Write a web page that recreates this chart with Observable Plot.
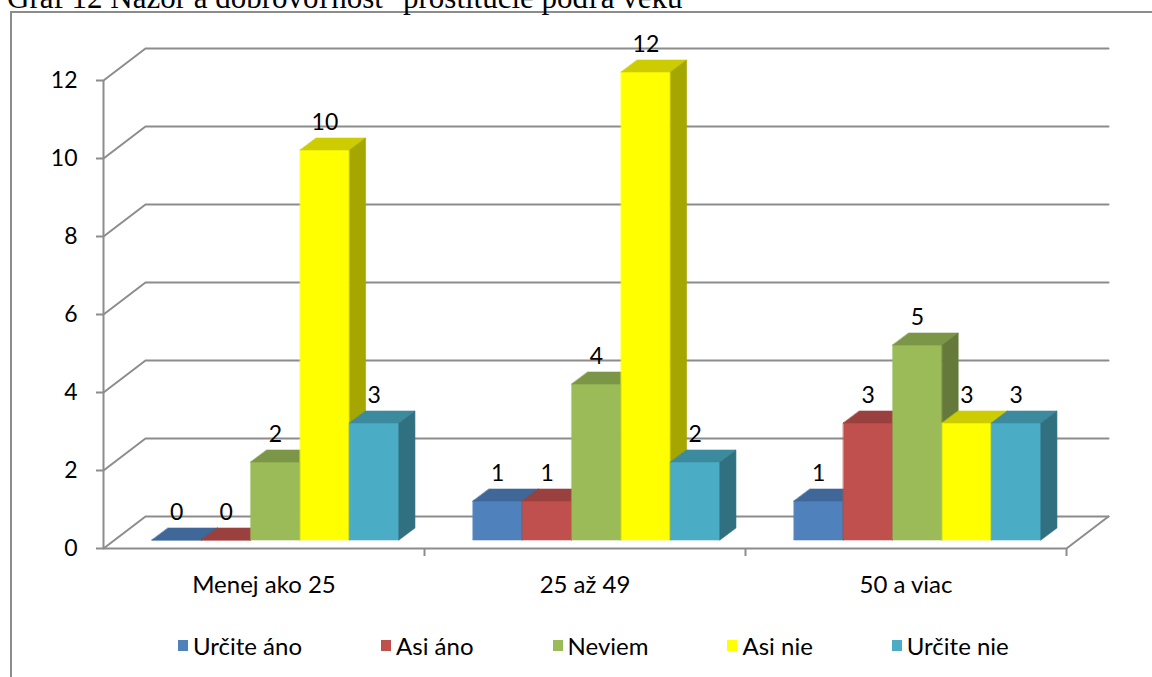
<!DOCTYPE html>
<html>
<head>
<meta charset="utf-8">
<script src="https://cdn.jsdelivr.net/npm/d3@7"></script>
<script src="https://cdn.jsdelivr.net/npm/@observablehq/plot@0.6"></script>
<style>
  html, body { margin: 0; padding: 0; background: #fff; width: 1152px; height: 677px; overflow: hidden; }
  #wrap { position: relative; width: 1152px; height: 677px; }
  #title { position: absolute; left: 7px; top: -18px; font-family: "Liberation Serif", serif; font-size: 31px; line-height: 31px; white-space: pre; color: #000; }
  #frame { position: absolute; left: 10px; top: 11px; width: 1200px; height: 700px; border: 2px solid #8c8c8c; box-sizing: border-box; }
  #chart { position: absolute; left: 0; top: 0; }
  #legend { position: absolute; left: 178px; top: 631px; display: flex; gap: 79px; font-family: Lato, sans-serif; font-size: 24px; color: #000; }
  .item { display: flex; align-items: center; gap: 5px; }
  .sw { width: 10px; height: 11px; }
</style>
</head>
<body>
<div id="wrap">
  <div id="frame"></div>
  <div id="title">Graf 12 Názor a dobrovoľnosť  prostitúcie podľa veku</div>
  <div id="chart"></div>
  <div id="legend"></div>
</div>
<script>
// ---- data ----
const categories = ["Menej ako 25", "25 až 49", "50 a viac"];
const seriesNames = ["Určite áno", "Asi áno", "Neviem", "Asi nie", "Určite nie"];
const urciteAno = [0, 1, 1];
const asiAno = [0, 1, 3];
const neviem = [2, 4, 5];
const asiNie = [10, 12, 3];
const urciteNie = [3, 2, 3];
const yTicks = [0, 2, 4, 6, 8, 10, 12];
const seriesColors = ["#4F81BD", "#C0504D", "#9BBB59", "#FFFF00", "#4BACC6"];

const seriesValues = [urciteAno, asiAno, neviem, asiNie, urciteNie];

// ---- layout ----
const W = 1152, H = 677;
const mL = 103, mR = 86, mT = 80, mB = 129;
const pxX = categories.length / (W - mL - mR);   // data units per px (x)
const pxY = 12 / (H - mT - mB);                  // data units per px (y)
const floorDX = 42 * pxX, floorDY = 32 * pxY;    // back wall depth
const barDX = 16 * pxX, barDY = 12 * pxY;        // bar depth
const offX = 11.5 * pxX, offY = 8.5 * pxY;       // bar front offset from front plane
const slots = 6.5;                               // 5 bars + 150% gap

function shade(col, k) {
  const c = d3.rgb(col);
  return d3.rgb(c.r * k, c.g * k, c.b * k).formatHex();
}

// gridlines (front diagonal + back wall)
const grid = [];
yTicks.forEach(v => {
  grid.push({x: 0, y: v, k: "g" + v});
  grid.push({x: floorDX, y: v + floorDY, k: "g" + v});
  grid.push({x: categories.length + floorDX, y: v + floorDY, k: "g" + v});
});
grid.push({x: categories.length + floorDX, y: floorDY, k: "floor"});
grid.push({x: categories.length, y: 0, k: "floor"});
grid.push({x: 0, y: 0, k: "floor"});

// bar faces in painter's order
const faces = [];
const labels = [];
categories.forEach((cat, g) => {
  seriesValues.forEach((vals, j) => {
    const v = vals[g];
    const col = seriesColors[j];
    const x1 = g + (0.75 + j) / slots + offX;
    const x2 = x1 + 1 / slots;
    const y0 = offY, yv = v + offY;
    const id = g + "-" + j;
    const front = shade(col, 1), top = shade(col, 0.8), side = shade(col, 0.65);
    [[x1, y0], [x2, y0], [x2, yv], [x1, yv]].forEach(([x, y]) => faces.push({x, y, id: id + "f", fill: front}));
    [[x1, yv], [x2, yv], [x2 + barDX, yv + barDY], [x1 + barDX, yv + barDY]].forEach(([x, y]) => faces.push({x, y, id: id + "t", fill: top}));
    [[x2, y0], [x2 + barDX, y0 + barDY], [x2 + barDX, yv + barDY], [x2, yv]].forEach(([x, y]) => faces.push({x, y, id: id + "s", fill: side}));
    labels.push({x: (x1 + x2) / 2, y: v, text: String(v)});
  });
});

const gridColor = "#8c8c8c";

const chart = Plot.plot({
  width: W, height: H,
  marginLeft: mL, marginRight: mR, marginTop: mT, marginBottom: mB,
  style: {background: "none", overflow: "visible"},
  x: {type: "linear", domain: [0, categories.length]},
  y: {type: "linear", domain: [0, 12]},
  color: {type: "identity"},
  marks: [
    Plot.line(grid, {x: "x", y: "y", z: "k", stroke: gridColor, strokeWidth: 2}),
    Plot.ruleX([0], {y1: 0, y2: 12, stroke: gridColor, strokeWidth: 2}),
    Plot.ruleX([1, 2, 3], {y1: 0, y2: -8 * pxY, stroke: gridColor, strokeWidth: 2}),
    Plot.axisY({ticks: yTicks, tickSize: 7, tickPadding: 19, stroke: gridColor, strokeWidth: 2, fontSize: 23, fontFamily: "Lato", fill: "#000", label: null}),
    Plot.axisX({ticks: [0.5, 1.5, 2.5], tickSize: 0, tickPadding: 27, tickFormat: d => categories[Math.floor(d)], fontSize: 24, fontFamily: "Lato", fill: "#000", label: null}),
    Plot.line(faces, {x: "x", y: "y", z: "id", fill: "fill", stroke: "fill", strokeWidth: 0.6, curve: "linear-closed"}),
    Plot.text(labels, {x: "x", y: "y", text: "text", dy: -36, fontSize: 23, fontFamily: "Lato", fill: "#000", lineAnchor: "middle"})
  ]
});
document.getElementById("chart").appendChild(chart);

// legend
const legend = document.getElementById("legend");
seriesNames.forEach((name, j) => {
  const item = document.createElement("div");
  item.className = "item";
  const sw = document.createElement("div");
  sw.className = "sw";
  sw.style.background = seriesColors[j];
  const t = document.createElement("span");
  t.textContent = name;
  item.appendChild(sw);
  item.appendChild(t);
  legend.appendChild(item);
});
</script>
</body>
</html>
